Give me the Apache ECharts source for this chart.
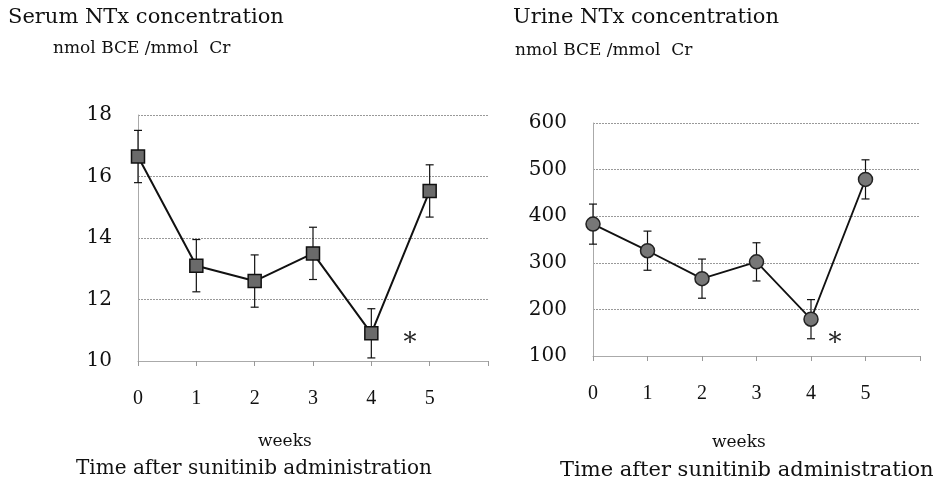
<!DOCTYPE html>
<html>
<head>
<meta charset="utf-8">
<script src="https://cdn.jsdelivr.net/npm/echarts@6/dist/echarts.min.js"></script>
<style>
  html, body { margin: 0; padding: 0; background: #fff; }
  #chart { width: 944px; height: 490px; }
</style>
</head>
<body>
<div id="chart"></div>
<script>
// Weeks after starting sunitinib
const weeks = [0, 1, 2, 3, 4, 5];
const xTicks = ['0', '1', '2', '3', '4', '5'];

// Serum NTx (nmol BCE/mmol Cr): mean and error
const serumMean = [16.65, 13.1, 12.6, 13.5, 10.9, 15.53];
const serumErr = [0.85, 0.85, 0.85, 0.85, 0.8, 0.85];

// Urine NTx (nmol BCE/mmol Cr): mean and error
const urineMean = [383, 326, 266, 302, 179, 479];
const urineErr = [43, 42, 42, 41, 42, 42];

const serif = 'DejaVu Serif, serif';
const narrow = 'Liberation Serif, Times New Roman, serif';

function pairs(ys) { return weeks.map((w, i) => [w, ys[i]]); }

function errorSeries(xIdx, yIdx, mean, err) {
  return {
    type: 'custom',
    xAxisIndex: xIdx,
    yAxisIndex: yIdx,
    z: 1,
    data: weeks.map((w, i) => [w, mean[i] - err[i], mean[i] + err[i]]),
    renderItem: function (params, api) {
      const lo = api.coord([api.value(0), api.value(1)]);
      const hi = api.coord([api.value(0), api.value(2)]);
      const hw = 4;
      const st = { stroke: '#111', lineWidth: 1.2 };
      return {
        type: 'group',
        children: [
          { type: 'line', shape: { x1: lo[0], y1: lo[1], x2: hi[0], y2: hi[1] }, style: st },
          { type: 'line', shape: { x1: lo[0] - hw, y1: lo[1], x2: lo[0] + hw, y2: lo[1] }, style: st },
          { type: 'line', shape: { x1: hi[0] - hw, y1: hi[1], x2: hi[0] + hw, y2: hi[1] }, style: st }
        ]
      };
    }
  };
}

function xAxis(gridIndex) {
  return {
    type: 'value', gridIndex: gridIndex, min: 0, max: 6, interval: 1,
    axisLine: { show: true, lineStyle: { color: '#aaa', width: 1 } },
    axisTick: { show: true, length: 5, lineStyle: { color: '#999' } },
    splitLine: { show: false },
    axisLabel: {
      margin: 28, color: '#111', fontFamily: narrow, fontSize: 20,
      formatter: v => (v < xTicks.length ? xTicks[v] : '')
    }
  };
}

function yAxis(gridIndex, min, max, interval) {
  return {
    type: 'value', gridIndex: gridIndex, min: min, max: max, interval: interval,
    axisLine: { show: true, lineStyle: { color: '#aaa', width: 1 } },
    axisTick: { show: false },
    splitLine: { show: true, lineStyle: { color: '#999', width: 1, type: [2, 1] } },
    axisLabel: { margin: 26, color: '#111', fontFamily: serif, fontSize: 20 }
  };
}

function note(x, y, text, font) {
  return { type: 'text', x: x, y: y, style: { text: text, font: font, fill: '#111' } };
}

function star(x, y) {
  return { type: 'text', x: x, y: y, style: { text: '*', font: '26px ' + serif, fill: '#222', textAlign: 'center', textVerticalAlign: 'middle' } };
}

const chart = echarts.init(document.getElementById('chart'));
chart.setOption({
  backgroundColor: '#fff',
  animation: false,
  grid: [
    { left: 138, width: 350, top: 115, height: 246 },
    { left: 593, width: 327, top: 123, height: 233 }
  ],
  xAxis: [xAxis(0), xAxis(1)],
  yAxis: [yAxis(0, 10, 18, 2), yAxis(1, 100, 600, 100)],
  series: [
    errorSeries(0, 0, serumMean, serumErr),
    {
      type: 'line', xAxisIndex: 0, yAxisIndex: 0, z: 2,
      data: pairs(serumMean),
      symbol: 'rect', symbolSize: 13,
      lineStyle: { color: '#111', width: 2 },
      itemStyle: { color: '#6a6a6a', borderColor: '#111', borderWidth: 1.5 }
    },
    errorSeries(1, 1, urineMean, urineErr),
    {
      type: 'line', xAxisIndex: 1, yAxisIndex: 1, z: 2,
      data: pairs(urineMean),
      symbol: 'circle', symbolSize: 14,
      lineStyle: { color: '#111', width: 1.8 },
      itemStyle: { color: '#777', borderColor: '#222', borderWidth: 1.5 }
    }
  ],
  graphic: [
    note(8, 7, 'Serum NTx concentration', '21px ' + serif),
    note(53, 40, 'nmol BCE /mmol  Cr', '17px ' + serif),
    note(513, 7, 'Urine NTx concentration', '21px ' + serif),
    note(515, 42, 'nmol BCE /mmol  Cr', '17px ' + serif),
    star(410, 344),
    star(835, 344),
    note(258, 433, 'weeks', '17px ' + serif),
    note(712, 434, 'weeks', '17px ' + serif),
    note(76, 459, 'Time after sunitinib administration', '20px ' + serif),
    note(560, 460, 'Time after sunitinib administration', '21px ' + serif)
  ]
});
</script>
</body>
</html>
